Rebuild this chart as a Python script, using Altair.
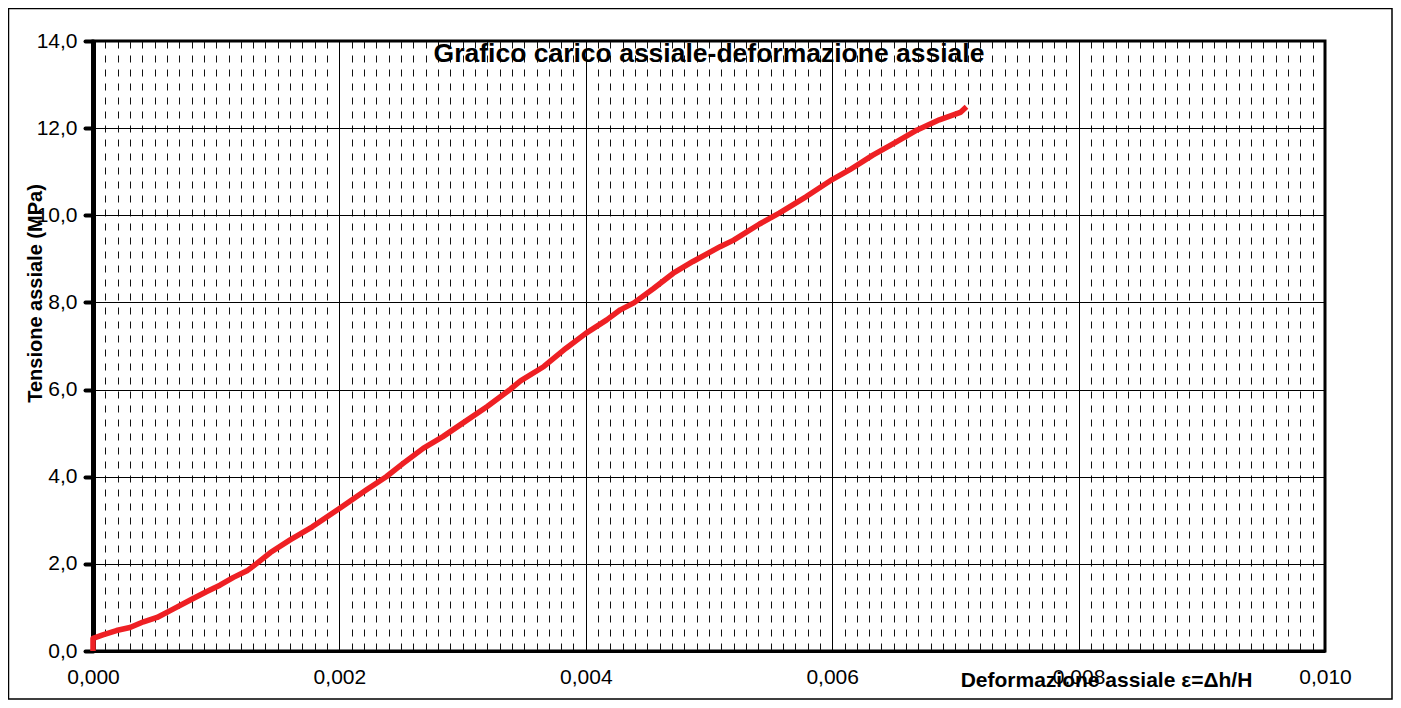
import altair as alt
import pandas as pd

# ---- data ----
strain = [0.0, 0.0, 0.00008, 0.00019, 0.00030, 0.00041, 0.00052, 0.00065, 0.00079,
          0.00092, 0.00103, 0.00114, 0.00125, 0.00133, 0.00144, 0.00160, 0.00178,
          0.00200, 0.00222, 0.00238, 0.00252, 0.00268, 0.00284, 0.00298, 0.00320,
          0.00338, 0.00347, 0.00366, 0.00384, 0.00400, 0.00417, 0.00428, 0.00439,
          0.00455, 0.00471, 0.00487, 0.00509, 0.00520, 0.00541, 0.00557, 0.00579,
          0.00600, 0.00614, 0.00633, 0.00650, 0.00669, 0.00687, 0.00704, 0.00709]
stress = [0.0, 0.29, 0.37, 0.47, 0.54, 0.67, 0.77, 0.96, 1.17,
          1.36, 1.51, 1.69, 1.84, 2.01, 2.26, 2.55, 2.85,
          3.27, 3.70, 4.00, 4.31, 4.65, 4.92, 5.19, 5.61,
          5.99, 6.20, 6.53, 6.95, 7.29, 7.60, 7.83, 7.99,
          8.32, 8.67, 8.94, 9.28, 9.43, 9.80, 10.05, 10.43,
          10.82, 11.04, 11.38, 11.65, 11.96, 12.19, 12.36, 12.49]

x_major = [0.0, 0.002, 0.004, 0.006, 0.008, 0.010]
y_major = [0, 2, 4, 6, 8, 10, 12, 14]
x_minor = [round(i * 0.0001, 4) for i in range(1, 100) if i % 20]

title_text = "Grafico carico assiale-deformazione assiale"
x_title = "Deformazione assiale ε=Δh/H"
y_title = "Tensione assiale (MPa)"

df = pd.DataFrame({"strain": strain, "stress": stress, "idx": list(range(len(strain)))})

FONT = "Liberation Sans"
W, H = 1232, 610

xscale = alt.Scale(domain=[0, 0.010], nice=False, zero=False)
yscale = alt.Scale(domain=[0, 14], nice=False)

minor = alt.Chart(df).mark_rule(opacity=0).encode(
    x=alt.X("strain:Q", scale=xscale,
            axis=alt.Axis(orient="top", values=x_minor, grid=True, gridDash=[7, 7],
                          gridColor="#111111", gridWidth=1, domain=False, ticks=False,
                          labels=False, title=None))
)

line = alt.Chart(df).mark_line(color="#EE2024", strokeWidth=5.5, strokeJoin="round").encode(
    x=alt.X("strain:Q", scale=xscale,
            axis=alt.Axis(values=x_major, grid=True, gridColor="#000000", gridWidth=1,
                          domain=True, domainColor="#000000", domainWidth=3, ticks=False,
                          labelExpr="replace(format(datum.value, '.3f'), '.', ',')",
                          labelFont=FONT, labelFontSize=21, labelColor="#000000",
                          labelPadding=15, labelFlush=False, labelOverlap=False,
                          title=x_title, titleFont=FONT, titleFontSize=21,
                          titleFontWeight="bold", titleColor="#000000",
                          titleX=1013, titleY=29, titleAlign="center",
                          titleBaseline="middle")),
    y=alt.Y("stress:Q", scale=yscale,
            axis=alt.Axis(values=y_major, grid=True, gridColor="#000000", gridWidth=1,
                          domain=True, domainColor="#000000", domainWidth=5,
                          ticks=True, tickSize=8, tickWidth=4, tickColor="#000000",
                          tickCap="round",
                          labelExpr="replace(format(datum.value, '.1f'), '.', ',')",
                          labelFont=FONT, labelFontSize=21, labelColor="#000000",
                          labelPadding=8, labelOverlap=False,
                          title=y_title, titleFont=FONT, titleFontSize=20,
                          titleFontWeight="bold", titleColor="#000000",
                          titleX=-58, titleY=252, titleAngle=-90, titleAlign="center",
                          titleBaseline="middle")),
    order=alt.Order("idx:Q"),
)

title_mark = alt.Chart(pd.DataFrame({"t": [title_text]})).mark_text(
    font=FONT, fontSize=26.5, fontWeight="bold", color="#000000",
    align="center", baseline="middle"
).encode(text="t:N", x=alt.value(W / 2), y=alt.value(13))

frame = alt.Chart(pd.DataFrame({"f": [0]})).mark_rect(
    fillOpacity=0, stroke="#000000", strokeWidth=1.5
).encode(
    x=alt.value(-84.5), x2=alt.value(1299), y=alt.value(-32.5), y2=alt.value(658)
)

chart = alt.layer(minor, line, title_mark, frame).resolve_axis(x="independent").properties(
    width=W, height=H,
    padding={"left": 85, "top": 33, "right": 68, "bottom": 49},
    autosize=alt.AutoSizeParams(type="none"),
).configure(background="white").configure_view(stroke="#000000", strokeWidth=3)

chart.save("out.html", embed_options={"renderer": "svg", "actions": False})
